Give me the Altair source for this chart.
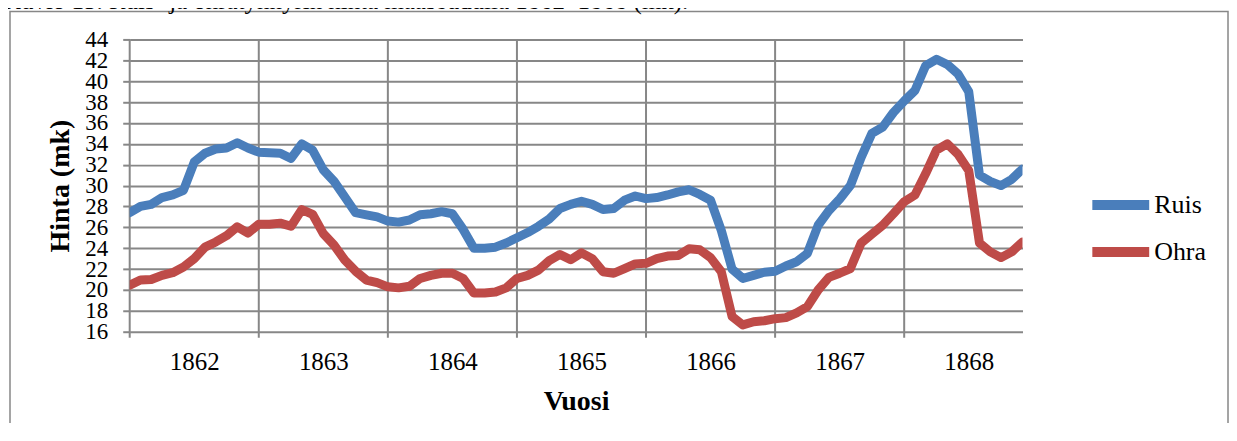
import altair as alt
import pandas as pd

years = ["1862", "1863", "1864", "1865", "1866", "1867", "1868"]
series_names = ["Ruis", "Ohra"]
colors = ["#4A7EBB", "#BE4B48"]
y_ticks = [16, 18, 20, 22, 24, 26, 28, 30, 32, 34, 36, 38, 40, 42, 44]

ruis = [27.4, 28.0, 28.2, 28.85, 29.1, 29.55, 32.25, 33.1, 33.5, 33.6, 34.1, 33.6,
        33.2, 33.15, 33.1, 32.6, 34.0, 33.4, 31.5, 30.4, 28.9, 27.4, 27.2, 27.0,
        26.6, 26.5, 26.7, 27.2, 27.3, 27.5, 27.3, 25.8, 24.0, 24.0, 24.1, 24.5,
        25.0, 25.5, 26.1, 26.8, 27.8, 28.2, 28.5, 28.2, 27.7, 27.8, 28.6, 29.0,
        28.75, 28.85, 29.1, 29.4, 29.6, 29.15, 28.6, 25.7, 22.0, 21.1, 21.4, 21.7,
        21.8, 22.3, 22.7, 23.5, 26.2, 27.6, 28.7, 30.0, 32.7, 35.0, 35.6, 37.0,
        38.1, 39.1, 41.5, 42.1, 41.6, 40.7, 39.0, 31.0, 30.4, 30.0, 30.6, 31.6]

ohra = [20.45, 20.95, 21.0, 21.4, 21.65, 22.2, 23.0, 24.1, 24.6, 25.2, 26.05, 25.45,
        26.3, 26.3, 26.4, 26.1, 27.7, 27.25, 25.4, 24.3, 22.85, 21.8, 20.95, 20.7,
        20.3, 20.2, 20.35, 21.1, 21.4, 21.6, 21.6, 21.1, 19.7, 19.7, 19.8, 20.2,
        21.1, 21.4, 21.9, 22.8, 23.4, 22.9, 23.55, 23.0, 21.75, 21.6, 22.05, 22.5,
        22.55, 23.0, 23.25, 23.3, 23.95, 23.85, 23.1, 21.75, 17.45, 16.65, 16.95, 17.05,
        17.25, 17.35, 17.8, 18.4, 20.0, 21.2, 21.6, 22.05, 24.5, 25.35, 26.2, 27.3,
        28.45, 29.1, 31.15, 33.4, 34.0, 33.0, 31.45, 24.5, 23.65, 23.1, 23.65, 24.6]

caption = "Kuvio 15. Ruis- ja ohratynnyrin hinta maaseudulla 1862\u20131868 (mk)."

n = len(ruis)
rows = []
for i, v in enumerate(ruis):
    rows.append({"m": i, "hinta": v, "sarja": "Ruis"})
for i, v in enumerate(ohra):
    rows.append({"m": i, "hinta": v, "sarja": "Ohra"})
df = pd.DataFrame(rows)
year_df = pd.DataFrame({"m": [12 * k for k in range(len(years))]})
one = pd.DataFrame({"t": [0]})

W, H = 895, 293
SERIF = "Liberation Serif"
GRID = "#878787"

x_scale = alt.Scale(domain=[0, n - 1], nice=False, zero=False)
y_scale = alt.Scale(domain=[16, 44], nice=False, zero=False)
label_expr = "[" + ",".join("'%s'" % y for y in years) + "][floor(datum.value / 12)]"

x_axis = alt.Axis(
    values=[12 * k + 6 for k in range(len(years))],
    labelExpr=label_expr,
    grid=False, ticks=False, tickSize=0, domain=False,
    labelFont=SERIF, labelFontSize=25, labelColor="black",
    labelBaseline="alphabetic", labelPadding=38, labelOverlap=False,
    title="Vuosi", titleFont=SERIF, titleFontSize=28, titleFontWeight="bold",
    titleColor="black", titleY=78, titleBaseline="alphabetic",
)

border = alt.Chart(one).mark_rect(fillOpacity=0, stroke=GRID, strokeWidth=1.5).encode(
    x=alt.value(-120), x2=alt.value(1101), y=alt.value(-28), y2=alt.value(520)
)

cap = alt.Chart(one).mark_text(
    text=caption, align="left", baseline="alphabetic", font=SERIF, fontSize=25, color="black"
).encode(x=alt.value(-127), y=alt.value(-30.5))

vgrid = alt.Chart(year_df).mark_rule(color=GRID, strokeWidth=2).encode(
    x=alt.X("m:Q", scale=x_scale, axis=x_axis),
    y=alt.value(0),
    y2=alt.value(H + 6),
)

lines = alt.Chart(df).mark_line(
    strokeWidth=9, strokeJoin="round", strokeCap="round", clip=True
).encode(
    x=alt.X("m:Q", scale=x_scale, axis=x_axis),
    y=alt.Y(
        "hinta:Q",
        scale=y_scale,
        axis=alt.Axis(
            values=y_ticks, grid=True, gridColor=GRID, gridWidth=2,
            ticks=True, tickSize=7, tickColor=GRID, tickWidth=2, domain=False,
            labelFont=SERIF, labelFontSize=23, labelColor="black", labelPadding=15,
            labelOverlap=False,
            title="Hinta (mk)", titleFont=SERIF, titleFontSize=28, titleFontWeight="bold",
            titleColor="black", titleX=-61, titleY=146.5, titleBaseline="alphabetic",
            titleAngle=270,
        ),
    ),
    color=alt.Color(
        "sarja:N",
        scale=alt.Scale(domain=series_names, range=colors),
        sort=series_names,
        legend=alt.Legend(
            orient="none", legendX=960, legendY=146, title=None,
            symbolType="stroke", symbolStrokeWidth=10, symbolSize=3249,
            labelFont=SERIF, labelFontSize=26, labelColor="black", labelOffset=0,
            rowPadding=7, clipHeight=40, padding=0,
        ),
    ),
)

chart = alt.layer(border, cap, vgrid, lines).properties(
    width=W, height=H,
    padding={"left": 122, "top": 31, "right": 207, "bottom": 91},
    autosize=alt.AutoSizeParams(type="none"),
).configure_view(strokeWidth=0)

chart.save("out.html", embed_options={"renderer": "svg", "actions": False})
